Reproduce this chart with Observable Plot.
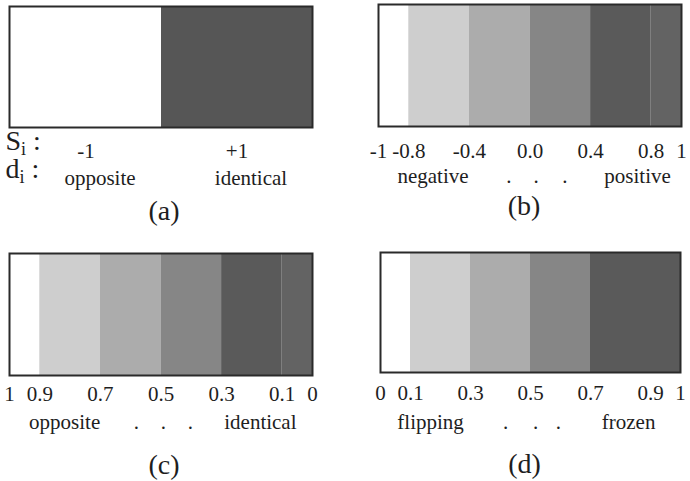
<!DOCTYPE html>
<html>
<head>
<meta charset="utf-8">
<script src="https://cdn.jsdelivr.net/npm/d3@7"></script>
<script src="https://cdn.jsdelivr.net/npm/@observablehq/plot@0.6"></script>
<style>
  html, body { margin: 0; padding: 0; background: #fff; }
  #wrap { position: relative; width: 690px; height: 481px; overflow: hidden; }
  #wrap > div, #wrap > svg { position: absolute; }
  #wrap svg text { font-family: "Liberation Serif", "Times New Roman", serif; }
</style>
</head>
<body>
<div id="wrap"></div>
<script>
// ---- data ----
// (a) binary states
const statesA = ["-1", "+1"];
const shadesA = ["#ffffff", "#565656"];
const wordsA = ["opposite", "identical"];
const rowLabelsA = ["Si :", "di :"];

// (b) continuous state -1..1
const edgesB = [-1, -0.8, -0.4, 0.0, 0.4, 0.8, 1];
const tickLabelsB = ["-1", "-0.8", "-0.4", "0.0", "0.4", "0.8", "1"];
const shadesB = ["#ffffff", "#cecece", "#acacac", "#868686", "#5a5a5a", "#636363"];
const wordsB = ["negative", ".", ".", ".", "positive"];
const wordAtB = [-0.64, -0.14, 0.04, 0.23, 0.71];

// (c) distance 1..0
const edgesC = [1, 0.9, 0.7, 0.5, 0.3, 0.1, 0];
const tickLabelsC = ["1", "0.9", "0.7", "0.5", "0.3", "0.1", "0"];
const shadesC = ["#ffffff", "#cecece", "#acacac", "#868686", "#5a5a5a", "#636363"];
const wordsC = ["opposite", ".", ".", ".", "identical"];
const wordAtC = [0.818, 0.581, 0.492, 0.403, 0.172];

// (d) 0..1 flipping/frozen
const edgesD = [0, 0.1, 0.3, 0.5, 0.7, 0.9, 1];
const tickLabelsD = ["0", "0.1", "0.3", "0.5", "0.7", "0.9", "1"];
const shadesD = ["#ffffff", "#cecece", "#acacac", "#868686", "#5a5a5a", "#5a5a5a"];
const wordsD = ["flipping", ".", ".", ".", "frozen"];
const wordAtD = [0.167, 0.417, 0.517, 0.593, 0.827];

const captions = ["(a)", "(b)", "(c)", "(d)"];

// ---- helpers ----
const FONT = "'Liberation Serif', 'Times New Roman', serif";
const style = {fontFamily: FONT, fontSize: "21px", color: "#1e1e1e", background: "transparent", overflow: "visible"};

function bands(edges, shades) {
  return shades.map((c, i) => ({x1: edges[i], x2: edges[i + 1], c}));
}

function gradPanel({edges, labels, shades, words, wordAt, caption, m, tickPad, wordDy, capDy, capDx}) {
  const fmt = new Map(edges.map((e, i) => [e, labels[i]]));
  return Plot.plot({
    width: 345, height: 240,
    marginLeft: m[0], marginRight: m[1], marginTop: m[2], marginBottom: m[3],
    style,
    x: {domain: [edges[0], edges[edges.length - 1]]},
    color: {type: "identity"},
    marks: [
      Plot.rect(bands(edges, shades), {x1: "x1", x2: "x2", fill: "c"}),
      Plot.frame({stroke: "#2a2a2a", strokeWidth: 2}),
      Plot.axisX({ticks: edges, tickFormat: d => fmt.get(d), tickSize: 0, tickPadding: tickPad, fontSize: 21, label: null}),
      Plot.text(words, {x: (d, i) => wordAt[i], text: d => d, frameAnchor: "bottom", lineAnchor: "top", dy: wordDy, fontSize: 21}),
      Plot.text([caption], {text: d => d, frameAnchor: "bottom", lineAnchor: "top", dy: capDy, dx: capDx, fontSize: 28})
    ]
  });
}

// ---- panel (a) ----
const dataA = statesA.map((s, i) => ({s, c: shadesA[i], w: wordsA[i]}));
const plotA = Plot.plot({
  width: 345, height: 240,
  marginLeft: 9, marginRight: 33, marginTop: 6, marginBottom: 113,
  style,
  x: {type: "band", domain: statesA, padding: 0, label: null},
  color: {type: "identity"},
  marks: [
    Plot.cell(dataA, {x: "s", fill: "c"}),
    Plot.frame({stroke: "#2a2a2a", strokeWidth: 2}),
    Plot.axisX({tickSize: 0, tickPadding: 16, fontSize: 21, label: null}),
    Plot.text(dataA, {x: "s", text: "w", frameAnchor: "bottom", lineAnchor: "top", dx: 14, dy: 43, fontSize: 21}),
    Plot.text([rowLabelsA[0]], {text: d => d, frameAnchor: "bottom-left", textAnchor: "start", lineAnchor: "top", dx: -4, dy: 3, fontSize: 28, className: "sub-label"}),
    Plot.text([rowLabelsA[1]], {text: d => d, frameAnchor: "bottom-left", textAnchor: "start", lineAnchor: "top", dx: -4, dy: 31, fontSize: 28, className: "sub-label"}),
    Plot.text([captions[0]], {text: d => d, frameAnchor: "bottom", lineAnchor: "top", dx: 3, dy: 73, fontSize: 28})
  ]
});

const plotB = gradPanel({edges: edgesB, labels: tickLabelsB, shades: shadesB, words: wordsB, wordAt: wordAtB,
  caption: captions[1], m: [33, 9, 4, 114], tickPad: 17, wordDy: 41.5, capDy: 69, capDx: -6});
const plotC = gradPanel({edges: edgesC, labels: tickLabelsC, shades: shadesC, words: wordsC, wordAt: wordAtC,
  caption: captions[2], m: [9, 33, 13, 105], tickPad: 11, wordDy: 38.5, capDy: 79, capDx: 3});
const plotD = gradPanel({edges: edgesD, labels: tickLabelsD, shades: shadesD, words: wordsD, wordAt: wordAtD,
  caption: captions[3], m: [35, 10, 12, 108], tickPad: 13, wordDy: 41.5, capDy: 81, capDx: -6});

const wrap = document.getElementById("wrap");
[[plotA, 0, 0], [plotB, 345, 0], [plotC, 0, 240], [plotD, 345, 240]].forEach(([p, x, y]) => {
  p.style.left = x + "px";
  p.style.top = y + "px";
  wrap.appendChild(p);
});

// subscript the "i" in the row labels (S_i, d_i)
d3.selectAll(".sub-label text").each(function () {
  const t = d3.select(this);
  const s = t.text();
  t.text(null);
  t.append("tspan").text(s[0]);
  t.append("tspan").attr("font-size", 18).attr("dy", 5).text(s[1]);
  t.append("tspan").attr("dy", -5).text(s.slice(2));
});
</script>
</body>
</html>
